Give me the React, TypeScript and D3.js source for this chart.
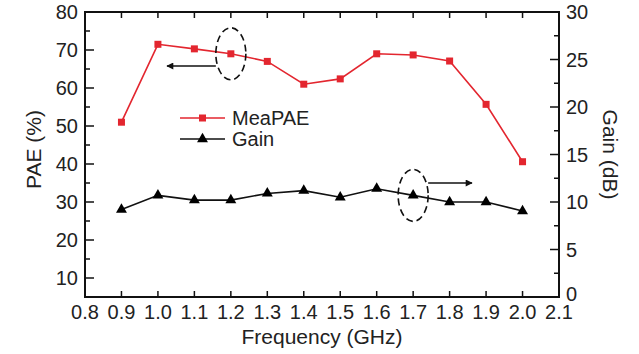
import React from "react";
import * as d3 from "d3";

const freq = [0.9, 1.0, 1.1, 1.2, 1.3, 1.4, 1.5, 1.6, 1.7, 1.8, 1.9, 2.0];
const meaPAE = [51, 71.5, 70.3, 69, 67, 61, 62.4, 69, 68.7, 67.1, 55.7, 40.6];
const gain = [9.2, 10.7, 10.2, 10.2, 10.9, 11.2, 10.5, 11.4, 10.7, 10.0, 10.0, 9.05];
const xTicks = [0.8, 0.9, 1.0, 1.1, 1.2, 1.3, 1.4, 1.5, 1.6, 1.7, 1.8, 1.9, 2.0, 2.1];
const leftTicks = [10, 20, 30, 40, 50, 60, 70, 80];
const leftMinor = [15, 25, 35, 45, 55, 65, 75];
const rightTicks = [0, 5, 10, 15, 20, 25, 30];
const rightMinor = [2.5, 7.5, 12.5, 17.5, 22.5, 27.5];

const W = 639, H = 354;
const L = 85, R = 559, T = 12, B = 297;
const FONT = "'Liberation Sans', Arial, sans-serif";
const RED = "#e3262f";

export default function App() {
  const x = d3.scaleLinear().domain([0.8, 2.1]).range([L, R]);
  const yL = d3.scaleLinear().domain([5, 80]).range([B, T]);
  const yR = d3.scaleLinear().domain([0, 30]).range([B, T]);
  const paeLine = d3.line<number>().x((_, i) => x(freq[i])).y((v) => yL(v));
  const gainLine = d3.line<number>().x((_, i) => x(freq[i])).y((v) => yR(v));
  const tri = d3.symbol().type(d3.symbolTriangle).size(52)();

  return (
    <svg width={W} height={H} style={{ position: "absolute", left: 0, top: 0, background: "#fff" }} fontFamily={FONT}>
      <defs>
        <marker id="ah" viewBox="0 0 10 10" refX="9" refY="5" markerWidth="9" markerHeight="7" orient="auto-start-reverse" markerUnits="userSpaceOnUse">
          <path d="M0,0 L10,5 L0,10 z" fill="#111" />
        </marker>
      </defs>
      {/* ticks */}
      {xTicks.map((t) => (
        <g key={"x" + t}>
          <line x1={x(t)} x2={x(t)} y1={B} y2={B - 6} stroke="#111" strokeWidth={1.5} />
          <line x1={x(t)} x2={x(t)} y1={T} y2={T + 6} stroke="#111" strokeWidth={1.5} />
          <text x={x(t)} y={319} fontSize={20} textAnchor="middle" fill="#222">{t.toFixed(1)}</text>
        </g>
      ))}
      {leftTicks.map((t) => (
        <g key={"l" + t}>
          <line x1={L} x2={L + 9} y1={yL(t)} y2={yL(t)} stroke="#111" strokeWidth={1.5} />
          <text x={78} y={yL(t)} dy="0.36em" fontSize={20} textAnchor="end" fill="#222">{t}</text>
        </g>
      ))}
      {leftMinor.map((t) => (
        <line key={"lm" + t} x1={L} x2={L + 5} y1={yL(t)} y2={yL(t)} stroke="#111" strokeWidth={1.5} />
      ))}
      {rightTicks.map((t) => (
        <g key={"r" + t}>
          <line x1={R} x2={R - 9} y1={yR(t)} y2={yR(t)} stroke="#111" strokeWidth={1.5} />
          <text x={566} y={yR(t) - (t === 0 ? 3 : 0)} dy="0.36em" fontSize={20} textAnchor="start" fill="#222">{t}</text>
        </g>
      ))}
      {rightMinor.map((t) => (
        <line key={"rm" + t} x1={R} x2={R - 5} y1={yR(t)} y2={yR(t)} stroke="#111" strokeWidth={1.5} />
      ))}
      {/* frame */}
      <rect x={L} y={T} width={R - L} height={B - T} fill="none" stroke="#111" strokeWidth={2} />

      {/* series */}
      <path d={paeLine(meaPAE) || ""} fill="none" stroke={RED} strokeWidth={1.6} />
      {meaPAE.map((v, i) => (
        <rect key={"p" + i} x={x(freq[i]) - 3.5} y={yL(v) - 3.5} width={7} height={7} fill={RED} />
      ))}
      <path d={gainLine(gain) || ""} fill="none" stroke="#111" strokeWidth={1.6} />
      {gain.map((v, i) => (
        <path key={"g" + i} d={tri || ""} transform={`translate(${x(freq[i])},${yR(v)})`} fill="#000" />
      ))}

      {/* annotations */}
      <ellipse cx={x(1.2)} cy={yL(69)} rx={15} ry={26} fill="none" stroke="#111" strokeWidth={1.6} strokeDasharray="7,4" />
      <line x1={x(1.2) - 15} y1={66} x2={167} y2={66} stroke="#111" strokeWidth={1.3} markerEnd="url(#ah)" />
      <ellipse cx={x(1.7)} cy={yR(10.7)} rx={15} ry={26} fill="none" stroke="#111" strokeWidth={1.6} strokeDasharray="7,4" />
      <line x1={x(1.7) + 15} y1={183} x2={472} y2={183} stroke="#111" strokeWidth={1.3} markerEnd="url(#ah)" />

      {/* legend */}
      <line x1={180} x2={225} y1={118} y2={118} stroke={RED} strokeWidth={1.6} />
      <rect x={199} y={114.5} width={7} height={7} fill={RED} />
      <text x={232} y={118} dy="0.36em" fontSize={20} fill="#222">MeaPAE</text>
      <line x1={180} x2={225} y1={139} y2={139} stroke="#111" strokeWidth={1.6} />
      <path d={tri || ""} transform="translate(202.5,139)" fill="#000" />
      <text x={232} y={139} dy="0.36em" fontSize={20} fill="#222">Gain</text>

      {/* axis titles */}
      <text x={(L + R) / 2} y={344} fontSize={21} textAnchor="middle" fill="#222">Frequency (GHz)</text>
      <text transform={`translate(41,${(T + B) / 2 - 5}) rotate(-90)`} fontSize={21} textAnchor="middle" fill="#222">PAE (%)</text>
      <text transform={`translate(603,${(T + B) / 2}) rotate(90)`} fontSize={21} textAnchor="middle" fill="#222">Gain (dB)</text>
    </svg>
  );
}
